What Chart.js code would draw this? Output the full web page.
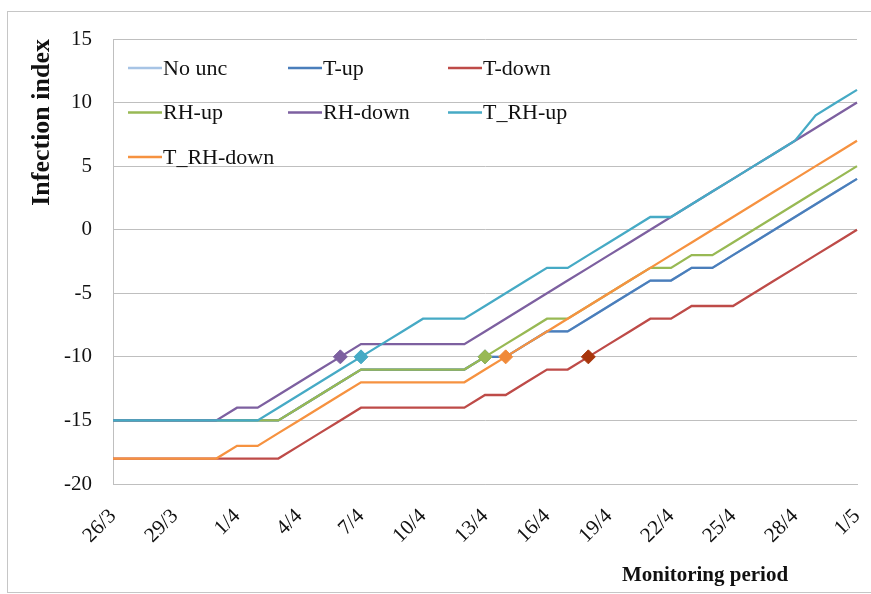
<!DOCTYPE html>
<html>
<head>
<meta charset="utf-8">
<script src="https://cdn.jsdelivr.net/npm/chart.js@4.4.1/dist/chart.umd.min.js"></script>
<style>
  html, body { margin: 0; padding: 0; background: #fff; }
  .frame { position: relative; width: 871px; height: 594px; overflow: hidden; }
  .border { position: absolute; left: 7px; top: 11px; width: 900px; height: 580px; border: 1px solid #c6c6c6; }
  canvas { position: absolute; left: 0; top: 0; }
</style>
</head>
<body>
<div class="frame">
  <div class="border"></div>
  <canvas id="chart" width="871" height="594"></canvas>
</div>
<script>
// daily categories, 26/3 .. 1/5 (a label is shown every 3rd day)
const dates = ['26/3', '27/3', '28/3', '29/3', '30/3', '31/3',
  '1/4', '2/4', '3/4', '4/4', '5/4', '6/4', '7/4', '8/4', '9/4', '10/4',
  '11/4', '12/4', '13/4', '14/4', '15/4', '16/4', '17/4', '18/4', '19/4', '20/4',
  '21/4', '22/4', '23/4', '24/4', '25/4', '26/4', '27/4', '28/4', '29/4', '30/4', '1/5'];

const seriesNames = ['No unc', 'T-up', 'T-down', 'RH-up', 'RH-down', 'T_RH-up', 'T_RH-down'];

// infection index per day
const noUnc = [-15, -15, -15, -15, -15, -15, -15, -15, -15, -14, -13, -12, -11, -11, -11, -11, -11, -11,
  -10, -10, -9, -8, -8, -7, -6, -5, -4, -4, -3, -3, -2, -1, 0, 1, 2, 3, 4];
const tUp = [-15, -15, -15, -15, -15, -15, -15, -15, -15, -14, -13, -12, -11, -11, -11, -11, -11, -11,
  -10, -10, -9, -8, -8, -7, -6, -5, -4, -4, -3, -3, -2, -1, 0, 1, 2, 3, 4];
const tDown = [-18, -18, -18, -18, -18, -18, -18, -18, -18, -17, -16, -15, -14, -14, -14, -14, -14, -14,
  -13, -13, -12, -11, -11, -10, -9, -8, -7, -7, -6, -6, -6, -5, -4, -3, -2, -1, 0];
const rhUp = [-15, -15, -15, -15, -15, -15, -15, -15, -15, -14, -13, -12, -11, -11, -11, -11, -11, -11,
  -10, -9, -8, -7, -7, -6, -5, -4, -3, -3, -2, -2, -1, 0, 1, 2, 3, 4, 5];
const rhDown = [-15, -15, -15, -15, -15, -15, -14, -14, -13, -12, -11, -10, -9, -9, -9, -9, -9, -9,
  -8, -7, -6, -5, -4, -3, -2, -1, 0, 1, 2, 3, 4, 5, 6, 7, 8, 9, 10];
const tRhUp = [-15, -15, -15, -15, -15, -15, -15, -15, -14, -13, -12, -11, -10, -9, -8, -7, -7, -7,
  -6, -5, -4, -3, -3, -2, -1, 0, 1, 1, 2, 3, 4, 5, 6, 7, 9, 10, 11];
const tRhDown = [-18, -18, -18, -18, -18, -18, -17, -17, -16, -15, -14, -13, -12, -12, -12, -12, -12, -12,
  -11, -10, -9, -8, -7, -6, -5, -4, -3, -2, -1, 0, 1, 2, 3, 4, 5, 6, 7];

// day on which each series reaches -10 (diamond marker)
const markerDay = [null, 18, 23, 18, 11, 12, 19];

const yTicks = { min: -20, max: 15, step: 5 };

const lineColors = ['#a7c4e5', '#4a7ebb', '#be4b48', '#98b954', '#7d60a0', '#46aac5', '#f69240'];
const markerColors = ['#a7c4e5', '#4a7ebb', '#a8360c', '#98b954', '#7d60a0', '#46aac5', '#f08a3a'];

const allSeries = [noUnc, tUp, tDown, rhUp, rhDown, tRhUp, tRhDown];

const datasets = allSeries.map(function(values, k) {
    return {
        label: seriesNames[k],
        data: values,
        borderColor: lineColors[k],
        backgroundColor: markerColors[k],
        borderWidth: 2.3,
        tension: 0,
        fill: false,
        pointStyle: 'rectRot',
        pointRadius: values.map((v, i) => i === markerDay[k] ? 7 : 0),
        pointHoverRadius: 0,
        pointBorderColor: markerColors[k],
        pointBackgroundColor: markerColors[k],
        pointBorderWidth: 1,
        order: -k
    };
});

// legend inside the plot + x axis title
const insideLegend = {
    id: 'insideLegend',
    afterDraw(chart) {
        const ctx = chart.ctx;
        const area = chart.chartArea;
        ctx.save();
        ctx.font = '22px "Liberation Serif", "Times New Roman", serif';
        ctx.textBaseline = 'middle';
        ctx.textAlign = 'left';
        ctx.fillStyle = '#111';
        chart.data.datasets.forEach(function(ds, i) {
            const col = i % 3, row = Math.floor(i / 3);
            const x = area.left + 15 + col * 160;
            const y = area.top + 29 + row * 44.5;
            ctx.strokeStyle = ds.borderColor;
            ctx.lineWidth = 2.5;
            ctx.beginPath();
            ctx.moveTo(x, y);
            ctx.lineTo(x + 34, y);
            ctx.stroke();
            ctx.fillText(ds.label, x + 35, y + 1);
        });
        ctx.font = 'bold 21px "Liberation Serif", "Times New Roman", serif';
        ctx.textAlign = 'center';
        ctx.fillText('Monitoring period', area.right - 152, 576);
        ctx.restore();
    }
};

const ctx = document.getElementById('chart').getContext('2d');
const chart = new Chart(ctx, {
    type: 'line',
    data: { labels: dates, datasets: datasets },
    options: {
        responsive: false,
        animation: false,
        devicePixelRatio: 1,
        layout: { padding: { top: 39, right: 14, left: 0, bottom: 0 } },
        plugins: {
            legend: { display: false },
            tooltip: { enabled: false }
        },
        scales: {
            x: {
                grid: { display: false },
                border: { display: true, color: '#bfbfbf', width: 1 },
                ticks: {
                    autoSkip: false,
                    minRotation: 45,
                    maxRotation: 45,
                    padding: 12,
                    color: '#111',
                    font: { family: '"Liberation Serif", "Times New Roman", serif', size: 21 },
                    callback: function(value, index) {
                        return index % 3 === 0 ? dates[index] : '';
                    }
                },
                afterFit: function(scale) {
                    scale.height = 110;
                    scale.paddingLeft = 0;
                    scale.paddingRight = 0;
                }
            },
            y: {
                min: yTicks.min,
                max: yTicks.max,
                grid: { color: '#bfbfbf', lineWidth: 1, drawTicks: false },
                border: { display: true, color: '#bfbfbf', width: 1 },
                ticks: {
                    stepSize: yTicks.step,
                    padding: 21,
                    color: '#111',
                    font: { family: '"Liberation Serif", "Times New Roman", serif', size: 21 }
                },
                title: {
                    display: true,
                    text: 'Infection index',
                    align: 'end',
                    color: '#111',
                    padding: { top: 27, bottom: 0 },
                    font: { family: '"Liberation Serif", "Times New Roman", serif', size: 26, weight: 'bold' }
                },
                afterFit: function(scale) {
                    scale.width = 113;
                }
            }
        }
    },
    plugins: [insideLegend]
});
</script>
</body>
</html>
